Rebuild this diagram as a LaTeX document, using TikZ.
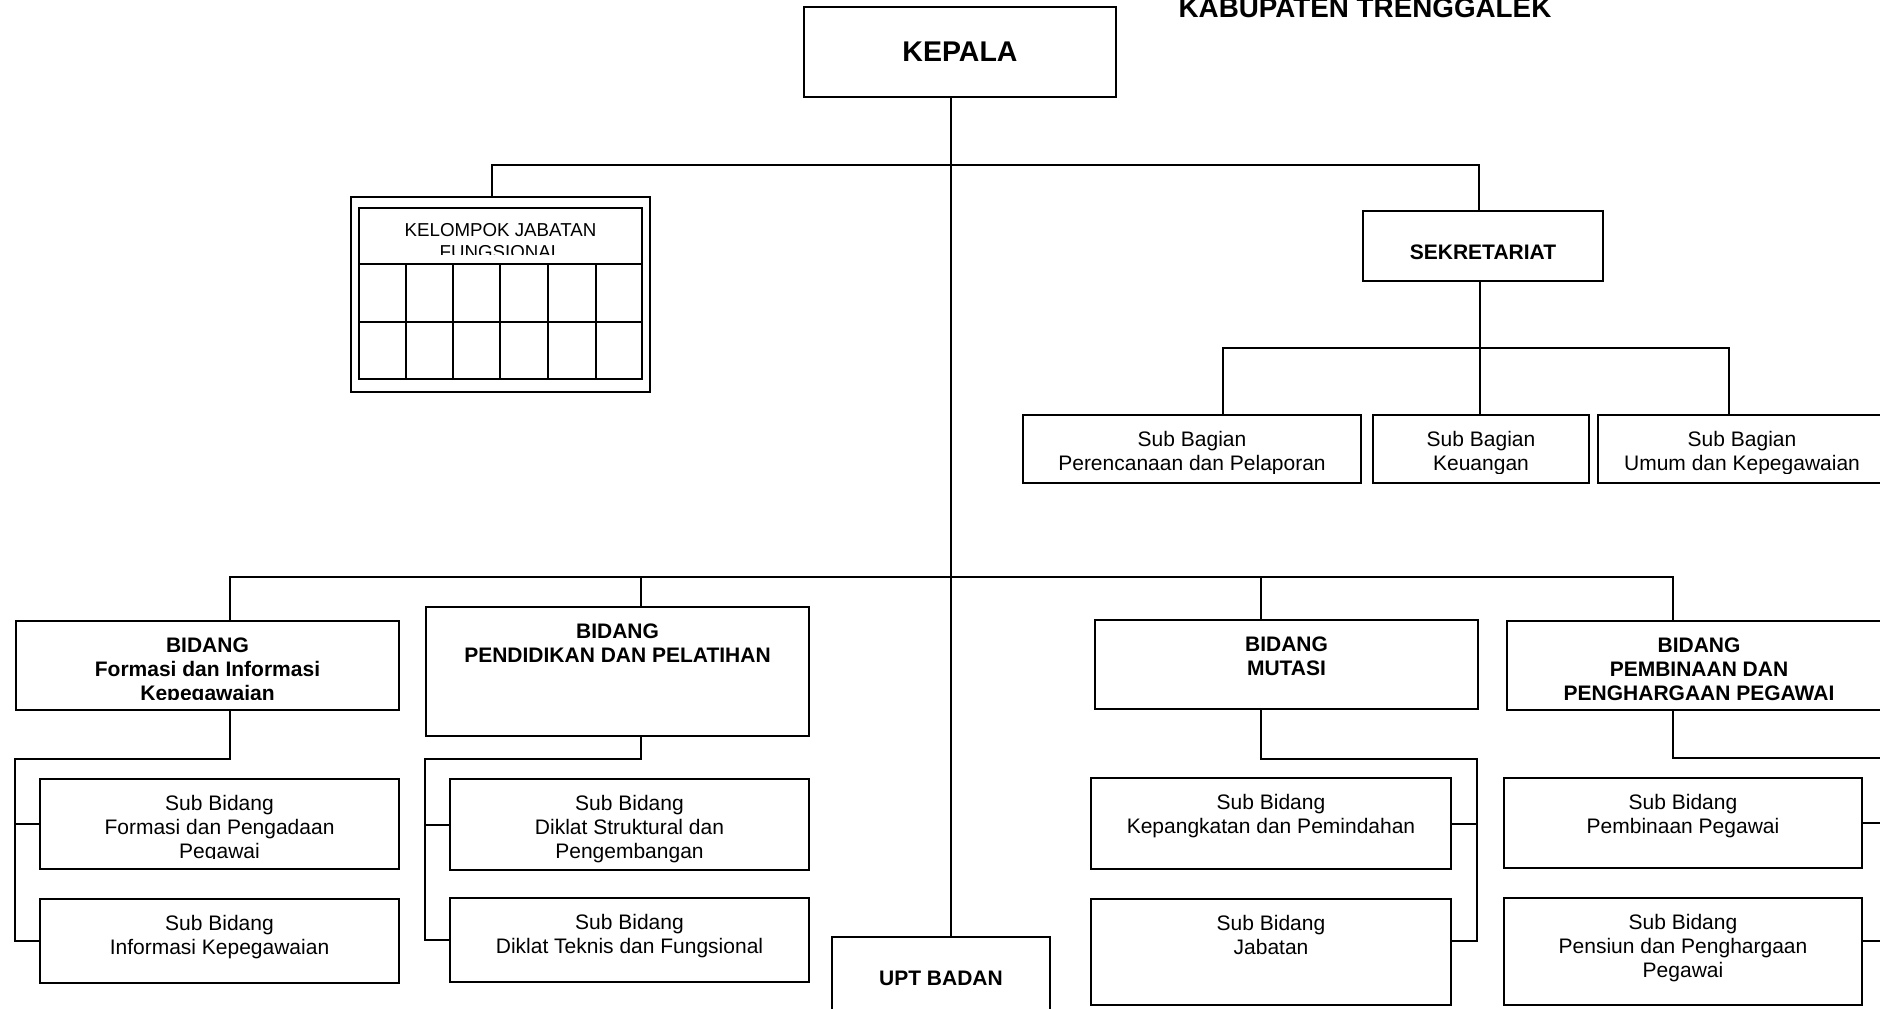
\documentclass[tikz,border=0pt]{standalone}
\usepackage{fontspec}
\setmainfont{Liberation Sans}
\usetikzlibrary{positioning, calc}

\begin{document}
\begin{tikzpicture}[x=1pt, y=-1pt]
        % Styles
        \tikzset{
          kotak/.style={draw, rectangle, line width=2pt, inner sep=0pt},
          garis/.style={line width=2pt},
          huruf/.style={font=\fontsize{21}{24}\selectfont},
          hurufb/.style={font=\bfseries\fontsize{21}{24}\selectfont},
          hurufk/.style={font=\fontsize{18.7}{21.6}\selectfont},
          isi/.style={align=center, inner sep=0pt, anchor=north}
        }
        \useasboundingbox (0,0) rectangle (1880,1009);

        % Nodes
        \node[font=\bfseries\fontsize{27.8}{32}\selectfont, inner sep=0pt] (judul) at (1365,8) {KABUPATEN TRENGGALEK};
        \node[kotak, font=\bfseries\fontsize{28.5}{32}\selectfont, minimum width=312pt, minimum height=90pt] (kepala) at (960,52) {KEPALA};

        % Kelompok jabatan fungsional
        \node[kotak, minimum width=299pt, minimum height=195pt] (kjf) at (500.5,294.5) {};
        \node[kotak, minimum width=283pt, minimum height=56pt] (kjft) at (500.5,236) {};
        \draw[garis] (359,264) rectangle (642,379);
        \draw[garis] (359,322) -- (642,322);
        \foreach \x in {406,453,500,548,596}
          \draw[garis] (\x,264) -- (\x,379);

        % Sekretariat
        \node[kotak, minimum width=240pt, minimum height=70pt] (sek) at (1483,246) {};
        \node[kotak, minimum width=338pt, minimum height=68pt] (sbp) at (1192,449) {};
        \node[kotak, minimum width=216pt, minimum height=68pt] (sbk) at (1481,449) {};
        \node[kotak, minimum width=288pt, minimum height=68pt] (sbu) at (1742,449) {};

        % Bidang
        \node[kotak, minimum width=383pt, minimum height=89pt] (bfi) at (207.5,665.5) {};
        \node[kotak, minimum width=383pt, minimum height=129pt] (bpp) at (617.5,671.5) {};
        \node[kotak, minimum width=383pt, minimum height=89pt] (bmu) at (1286.5,664.5) {};
        \node[kotak, minimum width=384pt, minimum height=89pt] (bpe) at (1699,665.5) {};

        % Sub bidang
        \node[kotak, minimum width=359pt, minimum height=90pt] (sbf1) at (219.5,824) {};
        \node[kotak, minimum width=359pt, minimum height=84pt] (sbf2) at (219.5,941) {};
        \node[kotak, minimum width=359pt, minimum height=91pt] (sbd1) at (629.5,824.5) {};
        \node[kotak, minimum width=359pt, minimum height=84pt] (sbd2) at (629.5,940) {};
        \node[kotak, minimum width=360pt, minimum height=91pt] (sbm1) at (1271,823.5) {};
        \node[kotak, minimum width=360pt, minimum height=106pt] (sbm2) at (1271,952) {};
        \node[kotak, minimum width=358pt, minimum height=90pt] (sbb1) at (1683,823) {};
        \node[kotak, minimum width=358pt, minimum height=107pt] (sbb2) at (1683,951.5) {};
        \node[kotak, minimum width=218pt, minimum height=93pt] (upt) at (941,983.5) {};
        \coordinate (kanan) at (1889,758);

        % Texts, cut off near the bottom edge of their box
        \foreach \nm/\ft/\dy/\cl/\tx in {
            kjft/hurufk/16.3/11/{KELOMPOK JABATAN\\FUNGSIONAL},
            sek/hurufb/34.4/11/{SEKRETARIAT},
            sbp/huruf/17.2/11/{Sub Bagian\\Perencanaan dan Pelaporan},
            sbk/huruf/17.2/11/{Sub Bagian\\Keuangan},
            sbu/huruf/17.2/11/{Sub Bagian\\Umum dan Kepegawaian},
            bfi/hurufb/17.2/11.5/{BIDANG\\Formasi dan Informasi\\Kepegawaian},
            bpp/hurufb/17.2/11/{BIDANG\\PENDIDIKAN DAN PELATIHAN},
            bmu/hurufb/17.2/11/{BIDANG\\MUTASI},
            bpe/hurufb/17.2/7/{BIDANG\\PEMBINAAN DAN\\PENGHARGAAN PEGAWAI},
            sbf1/huruf/17.2/12/{Sub Bidang\\Formasi dan Pengadaan\\Pegawai},
            sbf2/huruf/17.2/11/{Sub Bidang\\Informasi Kepegawaian},
            sbd1/huruf/17.2/0/{Sub Bidang\\Diklat Struktural dan\\Pengembangan},
            sbd2/huruf/17.2/11/{Sub Bidang\\Diklat Teknis dan Fungsional},
            sbm1/huruf/17.2/11/{Sub Bidang\\Kepangkatan dan Pemindahan},
            sbm2/huruf/17.2/11/{Sub Bidang\\Jabatan},
            sbb1/huruf/17.2/11/{Sub Bidang\\Pembinaan Pegawai},
            sbb2/huruf/17.2/11/{Sub Bidang\\Pensiun dan Penghargaan\\Pegawai},
            upt/hurufb/34.4/11/{UPT BADAN}}{
          \begin{scope}
            \clip ([yshift=\cl pt]\nm.south west) rectangle (\nm.north east);
            \node[isi, \ft] (\nm-t) at ([yshift=-\dy pt]\nm.north) {\tx};
          \end{scope}
        }

        % Paths
        \draw[garis] ([xshift=-9pt]kepala.south) -- ([xshift=-9pt]kepala.south |- upt.north);
        \draw[garis] ([xshift=-9pt]kjf.north) |- ([xshift=-4pt]sek.north |- 0,165) -- ([xshift=-4pt]sek.north);
        \draw[garis] ([xshift=-3pt]sek.south) -- ([xshift=-3pt]sek.south |- sbk.north);
        \draw[garis] ([xshift=31pt]sbp.north) |- ([xshift=-13pt]sbu.north |- 0,348) -- ([xshift=-13pt]sbu.north);

        \draw[garis] ([xshift=22.5pt]bfi.north) |- ([xshift=-26pt]bpe.north |- 0,577) -- ([xshift=-26pt]bpe.north);
        \draw[garis] ([xshift=23.5pt]bpp.north) -- ([xshift=23.5pt]bpp.north |- 0,577);
        \draw[garis] ([xshift=-25.5pt]bmu.north) -- ([xshift=-25.5pt]bmu.north |- 0,577);

        \draw[garis] ([xshift=22.5pt]bfi.south) |- ([yshift=-48pt]bfi.south west) |- (sbf2.west);
        \draw[garis] (sbf1.west) -- (sbf1.west -| bfi.west);
        \draw[garis] ([xshift=23.5pt]bpp.south) |- ([yshift=-22pt]bpp.south west) |- (sbd2.west);
        \draw[garis] (sbd1.west) -- (sbd1.west -| bpp.west);
        \draw[garis] ([xshift=-25.5pt]bmu.south) |- ([yshift=-49pt, xshift=-2pt]bmu.south east) |- ([yshift=11pt]sbm2.east);
        \draw[garis] (sbm1.east) -- ([xshift=-2pt]bmu.east |- sbm1.east);
        \draw[garis] ([xshift=-26pt]bpe.south) |- (kanan) |- ([yshift=10.5pt]sbb2.east);
        \draw[garis] (sbb1.east) -- (sbb1.east -| kanan);
\end{tikzpicture}
\end{document}
